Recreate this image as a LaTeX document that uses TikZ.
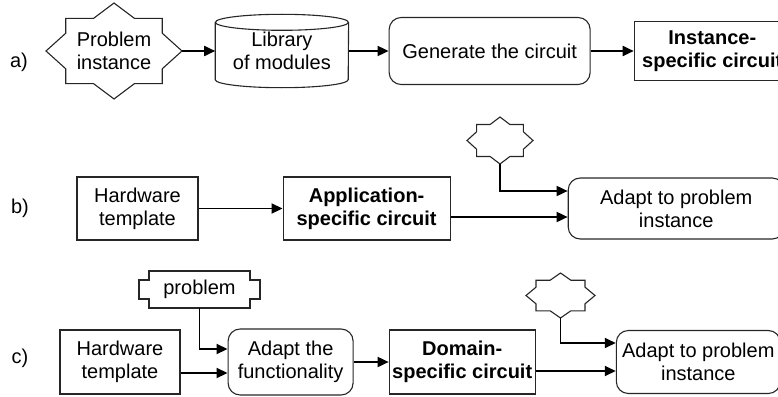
\documentclass[tikz,border=0pt]{standalone}
\usepackage{fontspec}
\setmainfont{Liberation Sans}
\usetikzlibrary{positioning,arrows.meta,calc}

\tikzset{
  block/.style={draw=black!85, line width=1.1pt, inner sep=0pt, align=center},
  roundblock/.style={block, rounded corners=12pt},
  bare/.style={inner sep=0pt, align=center},
  boldtext/.style={font=\fontsize{20pt}{23pt}\selectfont\bfseries},
  arr/.style={line width=1.8pt, -{Triangle[length=11pt,width=10pt]}}
}

% eight-point burst drawn round a node: node, half width, half height
\newcommand{\burst}[3]{%
  \draw[black!85, line width=1.1pt, shift={(#1.center)}, x=#2, y=#3]
    (-1,0) -- (-.71,.37) -- (-.71,.68) -- (-.3,.68) -- (0,1) -- (.3,.68)
    -- (.71,.68) -- (.71,.37) -- (1,0) -- (.71,-.37) -- (.71,-.68) -- (.3,-.68)
    -- (0,-1) -- (-.3,-.68) -- (-.71,-.68) -- (-.71,-.37) -- cycle;}

% drum (cylinder) round a node: node, half width
\newcommand{\drum}[2]{%
  \draw[black!85, line width=1.1pt]
    ($(#1.north west)+(0,-8pt)$) -- ($(#1.south west)+(0,8pt)$)
    arc[start angle=180, end angle=360, x radius=#2, y radius=8pt]
    -- ($(#1.north east)+(0,-8pt)$);
  \draw[black!85, line width=1.1pt] ($(#1.north)+(0,-8pt)$) ellipse [x radius=#2, y radius=8pt];}

\begin{document}
\begin{tikzpicture}[x=1pt, y=-1pt, every node/.style={font=\fontsize{20pt}{23pt}\selectfont}]
\useasboundingbox (0,0) rectangle (778,396);
\clip (0,0) rectangle (778,396);

% a) generated circuit
\node(la) at (19,62) {a)};
\node(pi)[bare, minimum width=136pt, minimum height=96pt] at (114,51) {Problem\\instance};
\node(lib)[bare, minimum width=133pt, minimum height=73pt, right=33pt of pi] {Library\\of modules};
\node(gen)[roundblock, minimum width=201pt, minimum height=67pt, right=40pt of lib] {Generate the circuit};
\node(inst)[block, boldtext, minimum width=156pt, minimum height=59pt, right=43pt of gen] {Instance-\\specific circuit};
\burst{pi}{68pt}{48pt}
\drum{lib}{66.5pt}
\draw[arr] (pi.east) -- (lib.west);
\draw[arr] (lib.east) -- (gen.west);
\draw[arr] (gen.east) -- (inst.west);

% b) application-specific circuit
\node(lb) at (20,208) {b)};
\node(hw1)[block, minimum width=121pt, minimum height=63pt] at (137.5,208.5) {Hardware\\template};
\node(app)[block, boldtext, minimum width=167pt, minimum height=63pt, right=84pt of hw1] {Application-\\specific circuit};
\node(ad1)[roundblock, minimum width=216pt, minimum height=61pt, right=117pt of app] {Adapt to problem\\instance};
\node(pb1)[bare, minimum width=66pt, minimum height=47pt] at (500,140.5) {};
\burst{pb1}{33pt}{23.5pt}
\draw[arr] (hw1.east) -- (app.west);
\draw[arr] ([yshift=-8.5pt]app.east) -- ([yshift=-8.5pt]ad1.west);
\draw[arr] (pb1.south) |- ([yshift=17.5pt]ad1.west);

% c) domain-specific circuit
\node(lc) at (20,358) {c)};
\node(hw2)[block, minimum width=120pt, minimum height=64pt] at (120,362) {Hardware\\template};
\node(adf)[roundblock, minimum width=125pt, minimum height=66pt, right=47pt of hw2] {Adapt the\\functionality};
\node(dom)[block, boldtext, minimum width=146pt, minimum height=64pt, right=35pt of adf] {Domain-\\specific circuit};
\node(ad2)[roundblock, minimum width=164pt, minimum height=63pt, right=80pt of dom] {Adapt to problem\\instance};
\node(pr)[bare, minimum width=101pt, minimum height=37pt] at (199.5,289.5) {problem};
\node(pb2)[bare, minimum width=69pt, minimum height=45pt] at (560.5,295.5) {};
\draw[black!85, line width=1.1pt, shift={(pr.center)}]
  (-50.5pt,18.5pt) -- (50.5pt,18.5pt) -- (50.5pt,9.5pt) -- (60.5pt,9.5pt)
  -- (60.5pt,-9.5pt) -- (50.5pt,-9.5pt) -- (50.5pt,-18.5pt) -- (-50.5pt,-18.5pt)
  -- (-50.5pt,-9.5pt) -- (-60.5pt,-9.5pt) -- (-60.5pt,9.5pt) -- (-50.5pt,9.5pt) -- cycle;
\burst{pb2}{34.5pt}{22.5pt}
\draw[arr] (pr.south) |- ([yshift=13pt]adf.west);
\draw[arr] ([yshift=-11pt]hw2.east) -- ([yshift=-11pt]adf.west);
\draw[arr] (adf.east) -- (dom.west);
\draw[arr] ([yshift=-9pt]dom.east) -- ([yshift=-9pt]ad2.west);
\draw[arr] (pb2.south) |- ([yshift=19pt]ad2.west);
\end{tikzpicture}
\end{document}
